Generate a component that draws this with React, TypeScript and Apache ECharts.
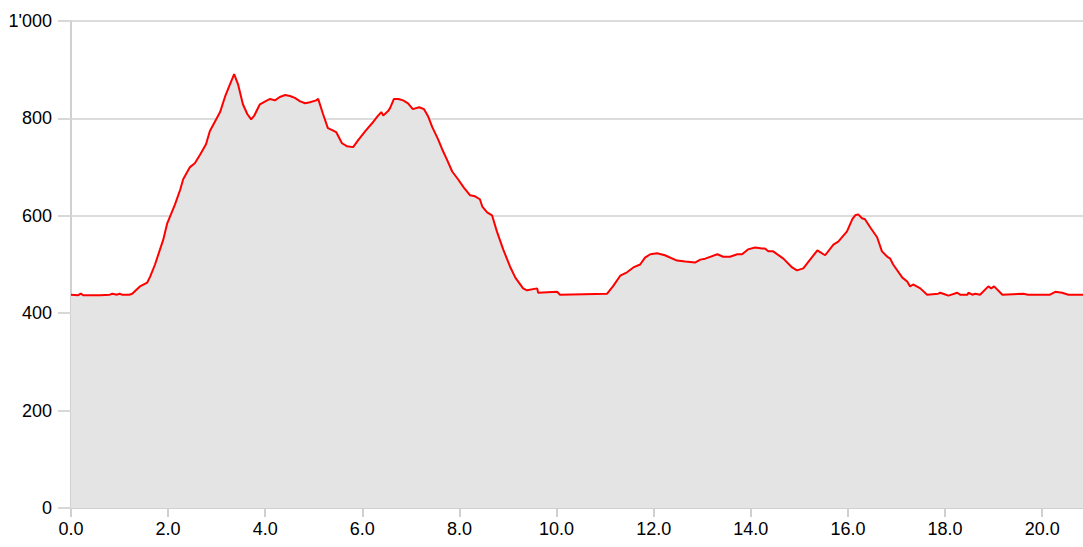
import React, { useEffect, useRef } from "react";
import * as echarts from "echarts";

const distanceKm: number[] = [
  0, 0.15, 0.2, 0.25, 0.6, 0.8, 0.85, 0.95, 1.0, 1.05, 1.2, 1.26, 1.42, 1.57, 1.63, 1.73, 1.9, 1.98,
  2.14, 2.25, 2.31, 2.45, 2.55, 2.66, 2.78, 2.86, 3.01, 3.07, 3.17, 3.25, 3.36, 3.44, 3.54, 3.63,
  3.71, 3.77, 3.89, 4.0, 4.1, 4.2, 4.3, 4.41, 4.51, 4.61, 4.72, 4.82, 4.92, 5.05, 5.09, 5.19, 5.29,
  5.38, 5.46, 5.58, 5.68, 5.81, 5.91, 6.06, 6.2, 6.32, 6.39, 6.43, 6.53, 6.57, 6.65, 6.74, 6.84,
  6.94, 7.04, 7.17, 7.27, 7.35, 7.44, 7.56, 7.66, 7.74, 7.85, 7.97, 8.09, 8.22, 8.32, 8.42, 8.47,
  8.57, 8.67, 8.77, 8.9, 9.04, 9.15, 9.31, 9.39, 9.6, 9.62, 10.01, 10.07, 11.04, 11.16, 11.31,
  11.45, 11.58, 11.72, 11.82, 11.93, 12.07, 12.23, 12.48, 12.65, 12.85, 12.96, 13.06, 13.31, 13.43,
  13.57, 13.72, 13.82, 13.94, 14.09, 14.23, 14.29, 14.36, 14.46, 14.67, 14.85, 14.95, 15.08, 15.22,
  15.37, 15.53, 15.7, 15.8, 15.98, 16.09, 16.15, 16.21, 16.29, 16.35, 16.46, 16.6, 16.7, 16.81,
  16.87, 16.93, 17.12, 17.22, 17.28, 17.34, 17.49, 17.63, 17.86, 17.9, 17.96, 18.07, 18.25, 18.31,
  18.46, 18.48, 18.56, 18.62, 18.72, 18.89, 18.95, 19.01, 19.18, 19.61, 19.71, 20.16, 20.27, 20.41,
  20.54, 20.84,
];

const elevationM: number[] = [
  438, 437, 440, 437, 437, 438, 440, 438, 440, 438, 438, 440, 455, 463, 475, 500, 551, 584,
  623, 654, 675, 700, 708, 726, 747, 774, 802, 813, 844, 864, 891, 870, 829, 809,
  798, 805, 829, 835, 840, 837, 844, 848, 846, 842, 835, 831, 833, 837, 840, 809, 780,
  776, 772, 749, 743, 741, 755, 774, 790, 805, 813, 806, 815, 821, 840, 840, 837,
  831, 819, 823, 819, 805, 782, 757, 733, 716, 691, 675, 658, 642, 640, 634, 619,
  607, 601, 568, 531, 496, 473, 451, 447, 451, 442, 444, 438, 440, 455, 477,
  484, 494, 500, 514, 521, 523, 519, 508, 506, 504, 510, 512, 521, 516,
  516, 521, 521, 531, 535, 533, 533, 527, 527, 512, 494, 488, 492, 510,
  529, 519, 541, 547, 568, 593, 601, 603, 595, 593, 576, 556, 527, 516,
  512, 500, 473, 465, 455, 459, 451, 438, 440, 442, 440, 436, 442, 438,
  438, 442, 438, 440, 438, 455, 451, 455, 438, 440, 438, 438, 444, 442,
  438, 438,
];

const xTickValues: number[] = [0, 2, 4, 6, 8, 10, 12, 14, 16, 18, 20];
const yTickValues: number[] = [0, 200, 400, 600, 800, 1000];

const FONT = "'Liberation Sans', Arial, sans-serif";

function formatThousands(v: number): string {
  const s = Math.round(v).toString();
  return s.replace(/\B(?=(\d{3})+(?!\d))/g, "'");
}

export default function App() {
  const ref = useRef<HTMLDivElement>(null);

  useEffect(() => {
    if (!ref.current) return;
    const chart = echarts.init(ref.current, undefined, { renderer: "svg" });
    const data = distanceKm.map((d, i) => [d, elevationM[i]]);
    chart.setOption({
      animation: false,
      backgroundColor: "#ffffff",
      grid: { left: 71, right: 0, top: 21, bottom: 39, containLabel: false },
      xAxis: {
        type: "value",
        min: 0,
        max: distanceKm[distanceKm.length - 1],
        interval: 2,
        axisLine: { show: true, lineStyle: { color: "#d0d0d0", width: 2 } },
        axisTick: {
          show: true,
          length: 9,
          customValues: xTickValues,
          lineStyle: { color: "#d0d0d0", width: 2 },
        },
        axisLabel: {
          customValues: xTickValues,
          formatter: (v: number) => v.toFixed(1),
          color: "#000",
          fontSize: 18,
          fontFamily: FONT,
          margin: 12,
        },
        splitLine: { show: false },
      },
      yAxis: {
        type: "value",
        min: 0,
        max: 1000,
        interval: 200,
        axisLine: { show: true, lineStyle: { color: "#d0d0d0", width: 2 } },
        axisTick: {
          show: true,
          length: 13,
          customValues: yTickValues,
          lineStyle: { color: "#d8d8d8", width: 2 },
        },
        axisLabel: {
          formatter: (v: number) => formatThousands(v),
          color: "#000",
          fontSize: 18,
          fontFamily: FONT,
          margin: 19,
        },
        splitLine: { show: true, lineStyle: { color: "#dcdcdc", width: 2 } },
      },
      series: [
        {
          type: "line",
          data,
          symbol: "none",
          smooth: false,
          lineStyle: { color: "#ff0000", width: 2 },
          areaStyle: { color: "#e4e4e4", opacity: 1 },
          z: 3,
        },
      ],
    });
    return () => chart.dispose();
  }, []);

  return (
    <div
      ref={ref}
      style={{ position: "fixed", left: 0, top: 0, width: 1083, height: 547 }}
    />
  );
}
